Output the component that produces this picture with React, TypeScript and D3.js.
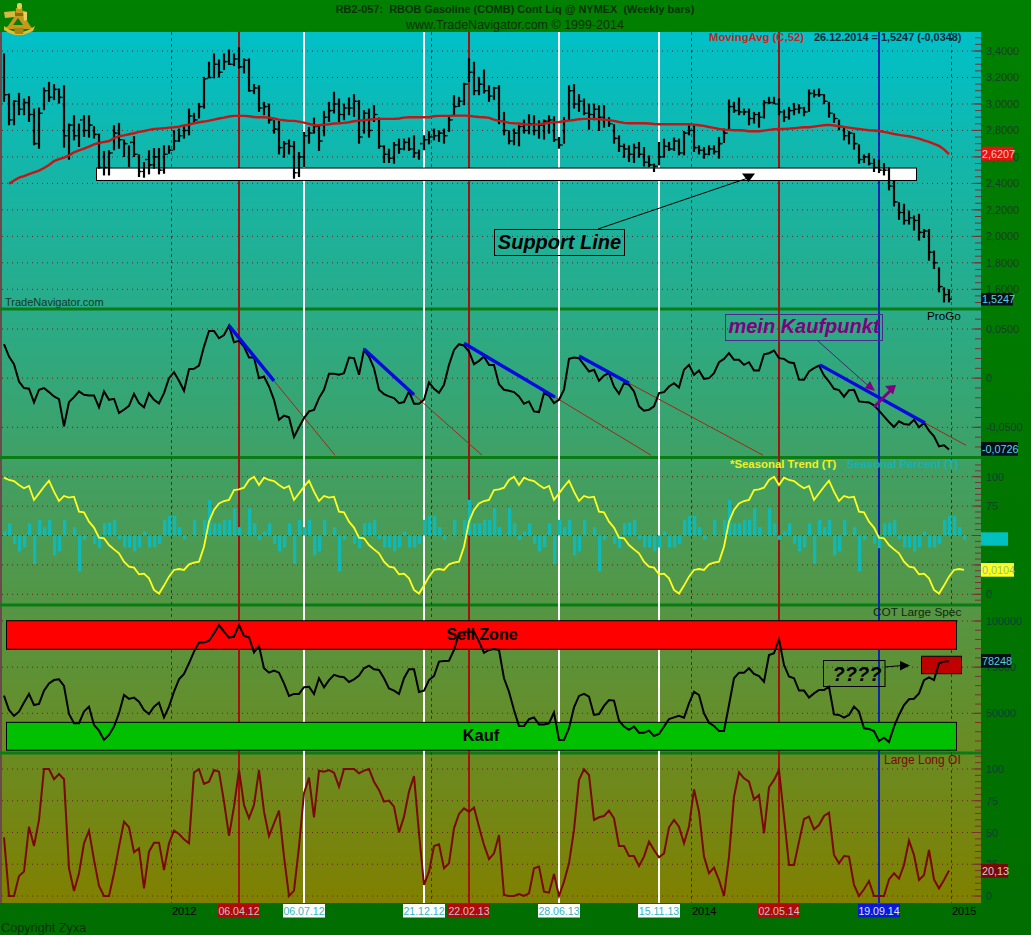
import React from "react";
import * as d3 from "d3";

// ---------- Weekly RBOB bars ----------
const barHigh = [3.382,3.079,3.029,3.084,3.041,3.059,2.965,2.973,3.124,3.167,3.150,3.117,3.142,2.852,2.915,2.852,2.915,2.915,2.832,2.776,2.645,2.650,2.839,2.857,2.731,2.688,2.756,2.619,2.561,2.650,2.667,2.667,2.688,2.688,2.801,2.814,2.839,2.965,2.933,3.008,3.205,3.319,3.382,3.337,3.382,3.412,3.382,3.427,3.344,3.344,3.150,3.142,3.016,3.003,2.877,2.872,2.720,2.731,2.720,2.637,2.789,2.827,2.897,2.839,2.948,3.016,3.092,3.041,3.003,3.049,3.074,3.029,2.953,2.965,2.991,2.897,2.688,2.662,2.713,2.738,2.738,2.746,2.763,2.655,2.763,2.796,2.814,2.801,2.814,2.902,3.066,3.054,3.160,3.344,3.319,3.205,3.261,3.142,3.129,3.142,2.940,2.801,2.814,2.839,2.882,2.922,2.915,2.877,2.882,2.915,2.907,2.751,2.902,3.142,3.150,3.074,3.041,3.003,3.003,2.991,2.991,2.902,2.847,2.763,2.700,2.688,2.700,2.713,2.675,2.612,2.549,2.713,2.738,2.713,2.746,2.738,2.796,2.839,2.839,2.688,2.675,2.688,2.688,2.751,2.814,3.034,3.016,3.049,2.965,2.965,2.940,2.940,3.029,3.054,3.054,3.041,2.958,2.978,3.008,2.998,2.978,3.109,3.109,3.117,3.074,3.016,2.928,2.882,2.827,2.796,2.781,2.695,2.619,2.630,2.587,2.579,2.554,2.523,2.423,2.258,2.246,2.195,2.157,2.170,2.056,2.056,1.892,1.766,1.614,1.602];
const barLow = [3.016,2.839,2.839,2.915,2.915,2.864,2.688,2.662,2.953,3.016,3.029,3.003,2.670,2.579,2.725,2.675,2.751,2.746,2.738,2.511,2.460,2.460,2.650,2.662,2.599,2.523,2.599,2.448,2.443,2.468,2.511,2.468,2.473,2.624,2.650,2.713,2.738,2.763,2.852,2.890,2.965,3.193,3.193,3.200,3.256,3.294,3.286,3.268,3.231,3.092,3.074,2.940,2.915,2.852,2.776,2.619,2.594,2.619,2.435,2.448,2.523,2.700,2.776,2.645,2.756,2.864,2.928,2.864,2.877,2.915,2.902,2.700,2.776,2.746,2.864,2.662,2.554,2.554,2.549,2.624,2.650,2.645,2.594,2.579,2.650,2.695,2.725,2.713,2.700,2.789,2.915,2.978,2.991,3.167,3.066,3.066,3.079,3.016,3.029,2.847,2.763,2.695,2.688,2.680,2.776,2.771,2.763,2.738,2.731,2.776,2.713,2.662,2.700,2.877,2.965,2.940,2.915,2.806,2.877,2.796,2.821,2.827,2.700,2.637,2.594,2.561,2.554,2.594,2.528,2.523,2.486,2.536,2.594,2.645,2.645,2.612,2.612,2.763,2.637,2.619,2.587,2.612,2.619,2.587,2.705,2.796,2.933,2.915,2.915,2.839,2.852,2.821,2.890,2.998,2.998,2.915,2.864,2.882,2.915,2.928,2.907,2.940,3.049,3.054,2.998,2.897,2.857,2.801,2.725,2.695,2.655,2.549,2.554,2.536,2.486,2.478,2.460,2.347,2.226,2.125,2.089,2.089,2.044,1.968,1.988,1.816,1.753,1.577,1.501,1.501];
const barClose = [3.07,2.88,3.02,2.96,3.01,2.92,2.70,2.93,3.10,3.05,3.11,3.05,2.76,2.84,2.76,2.88,2.80,2.84,2.77,2.52,2.52,2.63,2.78,2.73,2.70,2.71,2.62,2.49,2.58,2.54,2.60,2.50,2.62,2.65,2.72,2.76,2.80,2.91,2.88,2.98,3.19,3.20,3.30,3.24,3.32,3.30,3.34,3.28,3.33,3.10,3.12,2.97,2.98,2.88,2.81,2.67,2.70,2.68,2.48,2.60,2.76,2.78,2.83,2.72,2.90,2.95,3.00,2.92,2.97,2.97,3.02,2.75,2.93,2.80,2.92,2.68,2.62,2.59,2.69,2.66,2.71,2.66,2.63,2.70,2.73,2.75,2.76,2.78,2.76,2.88,2.98,3.02,3.15,3.24,3.10,3.15,3.10,3.06,3.12,2.87,2.80,2.72,2.78,2.83,2.80,2.85,2.80,2.84,2.87,2.88,2.73,2.69,2.87,3.10,3.00,3.02,2.93,2.92,2.96,2.90,2.88,2.85,2.74,2.68,2.66,2.62,2.67,2.62,2.56,2.54,2.53,2.60,2.68,2.66,2.72,2.63,2.78,2.80,2.67,2.65,2.62,2.66,2.64,2.70,2.78,2.98,2.95,2.94,2.94,2.89,2.92,2.90,3.01,3.01,3.00,2.94,2.90,2.95,2.96,2.97,2.94,3.08,3.07,3.07,3.02,2.93,2.89,2.83,2.76,2.78,2.70,2.58,2.60,2.55,2.52,2.50,2.50,2.38,2.26,2.18,2.12,2.14,2.12,2.03,2.04,1.88,1.80,1.62,1.56,1.5247];
const movingAvg52 = [null,2.397,2.422,2.443,2.455,2.470,2.483,2.496,2.516,2.539,2.569,2.584,2.594,2.612,2.635,2.650,2.662,2.678,2.695,2.705,2.713,2.720,2.741,2.756,2.763,2.771,2.779,2.789,2.796,2.804,2.811,2.814,2.816,2.821,2.824,2.829,2.837,2.844,2.854,2.862,2.867,2.874,2.882,2.890,2.897,2.905,2.910,2.910,2.910,2.907,2.902,2.900,2.900,2.897,2.890,2.882,2.877,2.872,2.872,2.867,2.859,2.849,2.839,2.839,2.844,2.847,2.852,2.854,2.857,2.862,2.869,2.874,2.877,2.882,2.885,2.887,2.887,2.887,2.887,2.890,2.897,2.900,2.900,2.900,2.900,2.900,2.907,2.910,2.910,2.910,2.912,2.912,2.912,2.910,2.905,2.902,2.900,2.895,2.882,2.872,2.867,2.857,2.854,2.852,2.847,2.844,2.844,2.847,2.852,2.857,2.862,2.864,2.869,2.874,2.879,2.885,2.887,2.887,2.887,2.885,2.882,2.877,2.872,2.864,2.857,2.854,2.854,2.854,2.854,2.852,2.849,2.847,2.847,2.847,2.847,2.847,2.847,2.847,2.844,2.839,2.834,2.826,2.819,2.811,2.806,2.804,2.801,2.801,2.799,2.794,2.794,2.794,2.799,2.804,2.809,2.811,2.811,2.814,2.816,2.821,2.824,2.824,2.829,2.834,2.839,2.842,2.837,2.832,2.826,2.821,2.816,2.811,2.806,2.801,2.799,2.796,2.789,2.781,2.773,2.766,2.761,2.756,2.748,2.738,2.725,2.713,2.698,2.683,2.657,2.6207];
const priceTicks = [3.4,3.2,3.0,2.8,2.6,2.4,2.2,2.0,1.8,1.6];

// ---------- ProGo ----------
const proGo = [.0345,.0220,.0142,-.0034,-.0101,-.0108,-.0247,-.0118,-.0101,-.0142,-.0186,-.0213,-.0490,-.0243,-.0193,-.0135,-.0169,-.0176,-.0176,-.0297,-.0135,-.0220,-.0210,-.0355,-.0321,-.0281,-.0159,-.0254,-.0297,-.0155,-.0220,-.0257,-.0152,0,.0061,-.0027,-.0128,.0091,.0095,.0128,.0321,.0480,.0480,.0406,.0439,.0534,.0365,.0379,.0321,.0210,.0210,0,.0017,-.0085,-.0220,-.0423,-.0382,-.0399,-.0598,-.0500,-.0406,-.0338,-.0324,-.0203,-.0118,.0044,.0044,.0034,.0051,.0210,.0203,.0034,.0287,.0220,.0101,-.0118,-.0162,-.0186,-.0203,-.0254,-.0243,-.0135,-.0260,-.0260,-.0220,-.0044,-.0108,-.0149,-.0068,.0135,.0287,.0345,.0331,.0270,.0142,.0176,.0220,.0135,.0135,-.0061,-.0118,-.0128,-.0142,-.0186,-.0260,-.0237,-.0338,-.0345,-.0152,-.0179,-.0254,-.0220,-.0118,.0196,.0210,.0203,.0135,.0068,.0085,-.0027,.0027,.0051,-.0085,-.0159,-.0051,-.0068,-.0135,-.0287,-.0331,-.0321,-.0287,-.0152,-.0142,-.0085,-.0051,-.0095,.0085,.0135,.0034,.0078,-.0007,0,.0051,.0162,.0196,.0254,.0186,.0186,.0135,.0162,.0078,.0078,.0243,.0254,.0281,.0203,.0196,.0162,.0152,-.0014,-.0017,.0068,.0101,.0128,.0027,-.0034,-.0108,-.0122,-.0189,-.0122,-.0118,-.0237,-.0243,-.0247,-.0277,-.0331,-.0389,-.0446,-.0497,-.0439,-.0466,-.0473,-.0423,-.0500,-.0456,-.0534,-.0592,-.0693,-.0683,-.0726];
const proGoMajorTicks = [0.05,0,-0.05];
const trendLines = [
  { i0: 45, v0: .0534, i1: 54, v1: -.0027, iExt: 66.2, vExt: -.0784 },
  { i0: 72, v0: .0297, i1: 82, v1: -.0169, iExt: 95.6, vExt: -.0784 },
  { i0: 92, v0: .0355, i1: 110.2, v1: -.0193, iExt: 129.4, vExt: -.0784 },
  { i0: 115, v0: .0226, i1: 125, v1: -.0051, iExt: 151.8, vExt: -.0784 },
  { i0: 163.2, v0: .0135, i1: 184.2, v1: -.0456, iExt: 192.4, vExt: -.0683 },
];

// ---------- Seasonal (one 52-week pattern that the chart repeats) ----------
const seasonalTrendYear = [99.2,97.2,96.3,92.9,90.1,92.1,80.2,85.8,91.5,96.6,87.3,79.3,83.6,82.2,83.0,70.3,69.7,61.8,56.7,48.2,47.6,41.9,38.2,34.8,27.8,23.5,22.7,17.0,17.6,13.6,3.7,0.6,7.4,15.0,20.7,21.5,20.7,25.5,26.9,27.8,40.5,61.8,71.7,77.3,79.3,80.2,88.7,89.2,90.7,97.2,100,92.9];
const seasonalPercentYear = [3.4,10.5,-7.1,-13.6,-10.2,10.5,-24.1,13.3,7.1,13.3,-17,-13.6,13.3,0.3,7.1,-30.6,-3.7,0.3,-7.1,-10.8,10.5,11,13.3,-3.1,-10.2,-10.2,-13.6,-10.2,3.4,-10.2,-10.2,-7.1,13.3,16.7,16.7,7.1,-3.7,0.3,13.3,0.3,13.3,30.3,10.5,10.5,13.3,13.3,23.2,7.1,0.3,23.2,10.5,-3.7];
const seasonalWeeks = 193;
const percentTicks = [100,75,50,25,0];

// ---------- COT Large Spec ----------
const cotLargeSpec = [59600,51800,48600,50900,55800,60500,54500,55100,62300,66200,68000,68400,64800,49600,44600,44600,50900,53600,43700,40600,35600,38300,42800,50000,59900,57800,58500,56300,51800,49600,53600,55800,47800,53600,61700,68400,71300,77100,83400,88400,88400,89300,93300,97800,94200,91000,91500,97800,91900,91200,83000,86500,74400,72000,73100,72000,66200,59400,60500,60500,64100,64400,60500,69000,64100,68000,70800,69900,69500,67000,68400,70400,74400,75800,73800,73500,69000,63500,62300,60500,69000,73800,73800,61500,62300,68000,70200,78000,78300,78500,84300,93300,94200,94200,94200,88800,82800,84300,84800,84300,69000,61700,51800,43100,43100,46800,47800,44000,44000,44600,50400,35600,35600,41900,53200,59400,60500,59000,49100,49600,54000,57200,56900,46000,42800,41000,42800,39500,39500,40600,37700,38800,42800,46900,47800,48700,47650,55400,61700,59900,50000,44900,43100,40400,40400,54500,69000,72000,72000,74400,71300,70200,67100,81600,82500,90100,76200,69900,69000,62300,62300,58500,60800,62600,62600,64400,49400,49100,47650,49100,53600,50900,41900,41500,40400,35000,36800,34500,42800,49100,54500,57600,57900,60800,68000,69500,68000,77100,78000,78248];
const cotTicks = [100000,75000,50000];

// ---------- Large Long OI ----------
const largeLongOI = [46.2,0,0,15.8,19.2,54.6,39.4,59.9,100,100,91.9,96.1,91.9,21.8,3.9,17.9,41.5,51.5,28.4,7.9,0,0,17.9,38.9,58.5,54.1,34.4,37.5,6.0,34.9,42,42,20.5,41.5,51.5,48.8,44.6,41.5,97.4,99.8,88.2,90.0,99.2,97.9,74.3,47.3,70.4,99.2,71.7,61.2,71.7,99.2,66.4,47.3,57.2,67.2,31,0,4.2,38.9,80.9,93.2,62,98.7,97.9,99.2,97.1,86.1,100,100,100,96.6,98.7,100,90,83.5,74.3,75.1,70.4,50.1,62.5,82.2,94.5,49.4,8.7,19.2,39.4,40.7,21.8,25.7,53.3,64.6,69,66.4,69.6,54.6,40.2,29.1,33.6,48,0.8,0,0,1.6,0,2.1,21.8,23.1,3.4,2.6,17.3,0,11.3,25.7,52,91.4,99.8,95.3,59.9,62,63,67.2,61.2,39.4,39.4,31.5,31.5,23.6,31,42.8,36.2,30.5,33.6,54.1,59.9,54.6,41.5,54.6,84,66.4,31,17.9,22.3,12.6,0,31,78.2,97.4,92.7,90,76.1,79.5,49.4,85.6,91.4,99.2,62.5,24.4,24.4,42.8,60.6,62.5,52.5,55.9,63,65.6,32.3,25.7,31.5,31,8.7,0,5.3,11.8,0,0,0,13.1,17.9,13.7,24.4,43.6,32.3,12.6,16.5,36.2,13.1,6,12.6,20.13];

// ---------- Time ----------
const events = [
  { label: "06.04.12", index: 47, kind: "red" },
  { label: "06.07.12", index: 60, kind: "white" },
  { label: "21.12.12", index: 84, kind: "white" },
  { label: "22.02.13", index: 93, kind: "red" },
  { label: "28.06.13", index: 111, kind: "white" },
  { label: "15.11.13", index: 131, kind: "white" },
  { label: "02.05.14", index: 155, kind: "red" },
  { label: "19.09.14", index: 175, kind: "blue" },
];
const yearMarks = [
  { label: "2012", index: 33.5 },
  { label: "2013", index: 85.5, hidden: true },
  { label: "2014", index: 137.5 },
  { label: "2015", index: 189.5 },
];
const supportZone = { from: 18.5, to: 182.5, top: 2.516, bottom: 2.422 };
const sellZone = { from: 0.5, to: 190.5, top: 100150, bottom: 84700 };
const buyZone = { from: 0.5, to: 190.5, top: 45100, bottom: 30000 };
const unknownZone = { from: 183.5, to: 191.5, top: 80900, bottom: 71450 };

const W = 1031, H = 935;
const PLOT_R = 981, PLOT_T = 32, PLOT_B = 903;
const FONT = "'Liberation Sans', Arial, sans-serif";
const x = d3.scaleLinear().domain([0, 189]).range([4, 949]);
const yPrice = d3.scaleLinear().domain([1.6, 3.4]).range([289.3, 51]);
const yPro = d3.scaleLinear().domain([-0.05, 0.05]).range([427.3, 329]);
const ySeas = d3.scaleLinear().domain([0, 100]).range([594.3, 476.7]);
const yCot = d3.scaleLinear().domain([50000, 100000]).range([713.3, 621]);
const yOI = d3.scaleLinear().domain([0, 100]).range([896, 769]);

const fmt4 = (v: number) => v.toFixed(4).replace(".", ",");
const eventColor: Record<string, string> = { red: "#a81010", white: "#ffffff", blue: "#0a24b8" };
const labelBg: Record<string, string> = { red: "#b00a0a", white: "#ffffff", blue: "#0a18d8" };
const labelFg: Record<string, string> = { red: "#c8c0c0", white: "#30b8c0", blue: "#d8e8f0" };

const lineOf = (vals: (number | null)[], y: d3.ScaleLinear<number, number>) =>
  d3.line<number | null>()
    .defined((d) => d !== null)
    .x((_, i) => x(i))
    .y((d) => y(d as number))(vals) as string;

function Axis({ major, step, extent, y, fmt, top, bottom }: any) {
  const minors = d3.range(extent[0], extent[1] + step / 2, step);
  const items = minors.map((v: number) => y(v)).filter((p: number) => p >= top && p <= bottom);
  return (
    <g>
      {items.map((p: number, i: number) => (
        <line key={i} x1={975} x2={PLOT_R} y1={p} y2={p} stroke="#7c3030" />
      ))}
      {major.map((v: number) => (
        <g key={v}>
          <line x1={2} x2={972} y1={y(v)} y2={y(v)} stroke="#6a2020" strokeDasharray="1 4" />
          <line x1={971.5} x2={PLOT_R} y1={y(v)} y2={y(v)} stroke="#7c3030" />
          <text x={986} y={y(v) + 4} fontSize={10.8} fill="#143c2c" fontFamily={FONT}>{fmt(v)}</text>
        </g>
      ))}
    </g>
  );
}

function ValueBox({ x0, y0, w, h, bg, fg, text }: any) {
  return (
    <g>
      <rect x={x0} y={y0} width={w} height={h} fill={bg} />
      {text ? <text x={x0 + 1} y={y0 + h - 3} fontSize={10.8} fill={fg} fontFamily={FONT}>{text}</text> : null}
    </g>
  );
}

function ZoneRect({ z, y, fill, sw = 1 }: any) {
  return (
    <rect x={x(z.from)} width={x(z.to) - x(z.from)} y={y(z.top)} height={y(z.bottom) - y(z.top)} fill={fill} stroke="#000" strokeWidth={sw} />
  );
}

function Logo() {
  return (
    <g>
      {/* frame */}
      <path d="M16 8 L22 8 L24 16 L31 27 L34 29 L4 29 L8 26 L15 16 Z" fill="#c49a18" />
      <path d="M13 25 L18 18 L23 25 Z" fill="#0a7a10" />
      {/* telescope */}
      <path d="M4 12 L15 11 L15 17 L5 18 Z" fill="#d8b840" />
      <path d="M15 13 L25 13 L25 16 L15 16 Z" fill="#8a6a10" />
      {/* index mirror */}
      <path d="M23 11 L27 12 L27 20 L24 21 Z" fill="#e8d060" />
      {/* arc */}
      <path d="M4 26 Q19 38 35 26 L33 31 Q24 35 22 35 L15 35 Q8 33 4 30 Z" fill="#e0bc30" />
      <path d="M14 28 L24 28 L23 34 L15 34 Z" fill="#a88410" />
      <rect x={17} y={3} width={5} height={6} rx={2} fill="#e8cc50" />
    </g>
  );
}

export default function App() {
  const seasonalTrend = d3.range(seasonalWeeks).map((i) => seasonalTrendYear[i % 52]);
  const seasonalPercent = d3.range(seasonalWeeks).map((i) => seasonalPercentYear[i % 52]);
  const seasonLine = d3.line<number>().x((_, i) => x(i)).y((d) => ySeas(d))(seasonalTrend) as string;

  return (
    <svg width={W} height={H} style={{ position: "absolute", left: 0, top: 0, display: "block" }} fontFamily={FONT}>
      <defs>
        <linearGradient id="plotBg" x1="0" y1="0" x2="0" y2="1">
          <stop offset="0" stopColor="#00c0c8" />
          <stop offset="1" stopColor="#808000" />
        </linearGradient>
        <linearGradient id="frameBg" x1="0" y1="0" x2="0" y2="1">
          <stop offset="0" stopColor="#008000" />
          <stop offset="1" stopColor="#006e00" />
        </linearGradient>
        <clipPath id="proClip"><rect x={0} y={311} width={PLOT_R} height={146} /></clipPath>
      </defs>
      <rect width={W} height={H} fill="url(#frameBg)" />
      <rect x={0} y={PLOT_T} width={PLOT_R} height={PLOT_B - PLOT_T} fill="url(#plotBg)" />
      <line x1={1} x2={1} y1={PLOT_T} y2={PLOT_B} stroke="#6a4a4a" strokeWidth={2} />

      {/* panel separators */}
      {[309, 457.5, 605, 753].map((p) => (
        <line key={p} x1={0} x2={PLOT_R} y1={p} y2={p} stroke="#0a7c14" strokeWidth={3} />
      ))}

      {/* axes & grid */}
      <Axis major={priceTicks} step={0.05} extent={[1.5, 3.5]} y={yPrice} fmt={fmt4} top={33} bottom={307} />
      <Axis major={proGoMajorTicks} step={0.01} extent={[-0.09, 0.06]} y={yPro} fmt={(v: number) => (v === 0 ? "0" : fmt4(v))} top={311} bottom={456} />
      <Axis major={percentTicks} step={5} extent={[-5, 110]} y={ySeas} fmt={String} top={460} bottom={603} />
      <Axis major={cotTicks} step={5000} extent={[25000, 100000]} y={yCot} fmt={String} top={607} bottom={751} />
      <Axis major={percentTicks} step={5} extent={[-5, 110]} y={yOI} fmt={String} top={756} bottom={902} />

      {/* time markers */}
      {yearMarks.map((m) => (
        <g key={m.label}>
          <line x1={x(m.index)} x2={x(m.index)} y1={PLOT_T} y2={PLOT_B} stroke="#7a1c1c" strokeDasharray="3 3" />
          {m.hidden ? null : <text x={x(m.index) + 0.5} y={915} fontSize={11} fill="#000" fontFamily={FONT}>{m.label}</text>}
        </g>
      ))}
      {events.map((e) => (
        <line key={e.label} x1={x(e.index)} x2={x(e.index)} y1={PLOT_T} y2={PLOT_B} stroke={eventColor[e.kind]} strokeWidth={2} />
      ))}

      {/* seasonal percent bars */}
      {seasonalPercent.map((v, i) => {
        const y0 = ySeas(50), y1 = ySeas(50 + v);
        return <rect key={i} x={x(i) - 1} width={3.3} y={Math.min(y0, y1)} height={Math.max(Math.abs(y1 - y0), 0.6)} fill="#10b8b8" />;
      })}

      {/* zones */}
      <ZoneRect z={supportZone} y={yPrice} fill="#ffffff" />
      <ZoneRect z={sellZone} y={yCot} fill="#ff0000" />
      <ZoneRect z={buyZone} y={yCot} fill="#00c000" />
      <ZoneRect z={unknownZone} y={yCot} fill="#c00000" />

      {/* OHLC bars */}
      <g stroke="#000">
        {barHigh.map((h, i) => {
          const px = x(i);
          return (
            <g key={i}>
              <line x1={px} x2={px} y1={yPrice(h)} y2={yPrice(barLow[i])} strokeWidth={2.2} />
              <line x1={px + 1} x2={px + 2.6} y1={yPrice(barClose[i])} y2={yPrice(barClose[i])} strokeWidth={1.6} />
              {i > 0 ? <line x1={px - 2.4} x2={px - 1} y1={yPrice(barClose[i - 1])} y2={yPrice(barClose[i - 1])} strokeWidth={1} /> : null}
            </g>
          );
        })}
      </g>
      <path d={lineOf(movingAvg52, yPrice)} fill="none" stroke="#c81414" strokeWidth={2.4} />

      {/* support annotation */}
      <line x1={598} y1={229} x2={748} y2={178} stroke="#000" />
      <path d="M742 173.5 L755 173.5 L748.5 182 Z" fill="#000" />
      <rect x={494.5} y={229.5} width={130} height={26} fill="none" stroke="#000" />
      <text x={559.5} y={248.5} textAnchor="middle" fontSize={20} fontWeight="bold" fontStyle="italic" fill="#000">Support Line</text>

      {/* ProGo */}
      <g clipPath="url(#proClip)">
        {trendLines.map((t, i) => (
          <line key={i} x1={x(t.i1)} y1={yPro(t.v1)} x2={x(t.iExt)} y2={yPro(t.vExt)} stroke="#a02818" />
        ))}
      </g>
      <path d={lineOf(proGo, yPro)} fill="none" stroke="#000" strokeWidth={2} />
      {trendLines.map((t, i) => (
        <line key={i} x1={x(t.i0)} y1={yPro(t.v0)} x2={x(t.i1)} y2={yPro(t.v1)} stroke="#0808e0" strokeWidth={3.4} />
      ))}
      <rect x={725.5} y={314.5} width={157} height={26} fill="none" stroke="#4b2a90" />
      <text x={804} y={333} textAnchor="middle" fontSize={20} fontWeight="bold" fontStyle="italic" fill="#800080">mein Kaufpunkt</text>
      <line x1={818} y1={341} x2={873} y2={390} stroke="#3a2a70" />
      <path d="M865 388 L870 381 L875 391 Z" fill="#800080" />
      <line x1={874} y1={407} x2={892} y2={389} stroke="#800080" strokeWidth={3} />
      <path d="M885 386 L896 385 L893 394.5 Z" fill="#800080" />

      {/* Seasonal trend */}
      <path d={seasonLine} fill="none" stroke="#ffff20" strokeWidth={1.8} />

      {/* COT */}
      <text x={482} y={640} textAnchor="middle" fontSize={16} fontWeight="bold" fill="#000">Sell Zone</text>
      <text x={481} y={741} textAnchor="middle" fontSize={16.5} fontWeight="bold" fill="#000">Kauf</text>
      <path d={lineOf(cotLargeSpec, yCot)} fill="none" stroke="#000" strokeWidth={2} />
      <rect x={823.5} y={660.5} width={61.5} height={26} fill="none" stroke="#000" />
      <text x={857} y={681} textAnchor="middle" fontSize={20} fontWeight="bold" fontStyle="italic" fill="#000">????</text>
      <line x1={885} y1={667} x2={902} y2={665.5} stroke="#000" />
      <path d="M900 661 L910 665.5 L900 670.5 Z" fill="#000" />

      {/* Large Long OI */}
      <path d={lineOf(largeLongOI, yOI)} fill="none" stroke="#7a0808" strokeWidth={2} />

      {/* bottom event labels */}
      <rect x={0} y={PLOT_B} width={PLOT_R} height={1} fill="#007000" />
      {events.map((e) => (
        <g key={e.label}>
          <rect x={x(e.index) - 21} y={904} width={42} height={13.5} fill={labelBg[e.kind]} />
          <text x={x(e.index)} y={915} textAnchor="middle" fontSize={10.6} fill={labelFg[e.kind]}>{e.label}</text>
        </g>
      ))}

      {/* right value boxes */}
      <ValueBox x0={981} y0={146.7} w={32} h={14} bg="#e81010" fg="#f0c8c8" text="2,6207" />
      <ValueBox x0={981} y0={293} w={32} h={12.5} bg="#041018" fg="#60d0e0" text="1,5247" />
      <ValueBox x0={981} y0={442} w={37} h={13.7} bg="#041018" fg="#60d0e0" text="-0,0726" />
      <ValueBox x0={981} y0={532.3} w={27} h={13.4} bg="#00c0c0" />
      <ValueBox x0={981} y0={563} w={33} h={13.7} bg="#ffff20" fg="#90c080" text="0,0104" />
      <ValueBox x0={981} y0={654} w={30} h={13.7} bg="#041018" fg="#60c8d8" text="78248" />
      <ValueBox x0={981} y0={864} w={27} h={13.7} bg="#7a0808" fg="#d8c8c8" text="20,13" />

      {/* texts */}
      <text x={515} y={12.5} textAnchor="middle" fontSize={10.95} fontWeight="bold" fill="#0c300c" xmlSpace="preserve">RB2-057:  RBOB Gasoline (COMB) Cont Liq @ NYMEX  (Weekly bars)</text>
      <text x={515} y={29} textAnchor="middle" fontSize={12.5} fill="#0c300c">www.TradeNavigator.com © 1999-2014</text>
      <text x={709} y={41} fontSize={11.3} fontWeight="bold" fill="#c02828">MovingAvg (C,52)</text>
      <text x={814} y={41} fontSize={10.9} fontWeight="bold" fill="#0c2c30">26.12.2014 = 1,5247 (-0,0348)</text>
      <text x={5} y={306} fontSize={11} fill="#123828">TradeNavigator.com</text>
      <text x={927} y={320} fontSize={11.7} fill="#000">ProGo</text>
      <text x={730} y={468} fontSize={11.4} fontWeight="bold" fill="#f0f020">*Seasonal Trend (T)</text>
      <text x={847} y={468} fontSize={11.3} fontWeight="bold" fill="#18b0b0">Seasonal Percent (T)</text>
      <text x={873} y={616} fontSize={11.8} fill="#102810">COT Large Spec</text>
      <text x={884} y={764} fontSize={12} fill="#7a0808">Large Long OI</text>
      <text x={1} y={932} fontSize={12.7} fill="#0c300c">Copyright Zyxa</text>
      <Logo />
    </svg>
  );
}
